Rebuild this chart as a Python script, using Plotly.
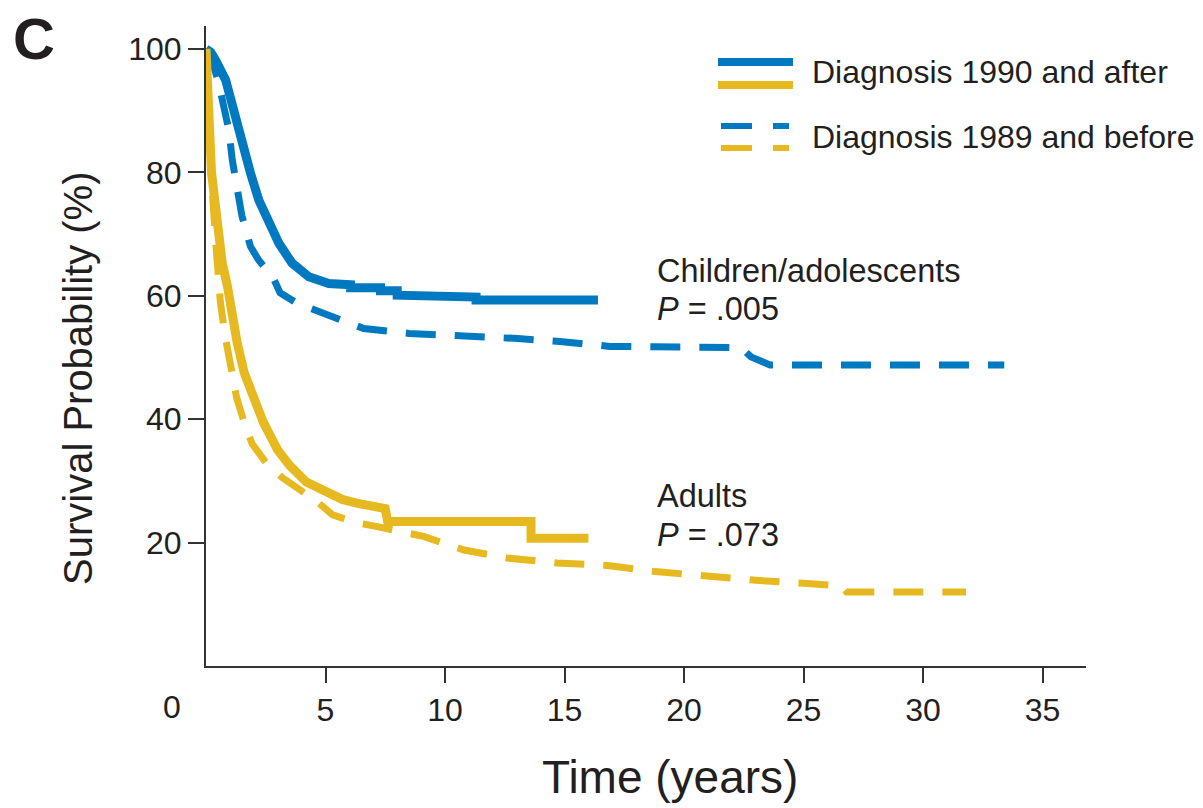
import plotly.graph_objects as go

# Kaplan-Meier estimates (time in years, survival in %)
child_after_t = [0, 0.2, 0.4, 0.82, 1.16, 1.51, 1.86, 2.21, 2.63, 3.05, 3.6, 4.3, 5.14, 6.05, 6.05,
                 7.3, 7.3, 8.0, 8.0, 10.7, 10.7, 11.3, 11.3, 16.4]
child_after_s = [100, 99.5, 98.2, 95, 90.1, 84.7, 79.9, 75.5, 71.7, 68.5, 65.3, 63.1, 62, 61.8, 61.3,
                 61.3, 60.8, 60.8, 60.1, 60.1, 59.8, 59.8, 59.3, 59.3]

child_before_t = [0, 0.25, 0.5, 0.73, 0.95, 1.1, 1.3, 1.5, 1.86, 2.2, 2.8, 3.1, 3.8, 4.9, 6.6, 8.5,
                  10.8, 12.9, 14.8, 16.9, 22.4, 22.8, 23.6, 33.4]
child_before_s = [100, 98, 95, 90.1, 87, 82, 77.5, 73, 68, 65.8, 63, 60.5, 58.8, 57.2, 54.7, 53.9,
                  53.6, 53.1, 52.6, 51.8, 51.6, 50.1, 48.8, 48.8]

adult_after_t = [0, 0.05, 0.12, 0.23, 0.45, 0.68, 0.9, 1.05, 1.3, 1.6, 2.0, 2.4, 3.0, 3.5, 4.2, 5.0,
                 5.7, 6.3, 7.0, 7.5, 7.6, 13.6, 13.6, 16.0]
adult_after_s = [100, 95, 89.6, 80, 72.8, 65.3, 61.5, 58, 52.5, 47.5, 43, 39.5, 35, 32.5, 29.8, 28.2,
                 27, 26.4, 25.8, 25.5, 23.4, 23.4, 20.7, 20.7]

adult_before_t = [0, 0.05, 0.12, 0.23, 0.4, 0.6, 0.8, 1.0, 1.28, 1.6, 1.93, 2.5, 3.2, 3.95, 4.6, 5.3,
                  6.2, 7.16, 8.0, 9.1, 10.8, 12.6, 14.7, 16.8, 18.8, 20.9, 23.0, 25.0, 26.6, 26.8, 31.8]
adult_before_s = [100, 94, 88, 79, 69, 59, 53.5, 49.5, 43.5, 39.5, 36, 33, 30.5, 28.5, 26.8, 24.5,
                  23.3, 22.6, 21.8, 21, 18.8, 17.5, 16.7, 16.3, 15.3, 14.5, 13.9, 13.4, 13.0, 12.0, 12.0]

x_ticks = [5, 10, 15, 20, 25, 30, 35]
y_ticks = [20, 40, 60, 80, 100]
legend_labels = ["Diagnosis 1990 and after", "Diagnosis 1989 and before"]
group_labels = [("Children/adolescents", "<i>P</i> = .005"), ("Adults", "<i>P</i> = .073")]

BLUE = "#0079C1"
GOLD = "#E7B920"
INK = "#231F20"
DASH = "30px,19px"

W, H = 1203, 808
L, R, T, B = 206, 117, 26, 142
PW, PH = W - L - R, H - T - B


def px(xp):
    return (xp - L) / PW


def py(yp):
    return (H - B - yp) / PH


fig = go.Figure()
fig.add_trace(go.Scatter(x=child_after_t, y=child_after_s, mode="lines",
                         line=dict(color=BLUE, width=9), showlegend=False))
fig.add_trace(go.Scatter(x=child_before_t, y=child_before_s, mode="lines",
                         line=dict(color=BLUE, width=7, dash=DASH), showlegend=False))
fig.add_trace(go.Scatter(x=adult_after_t, y=adult_after_s, mode="lines",
                         line=dict(color=GOLD, width=9), showlegend=False))
fig.add_trace(go.Scatter(x=adult_before_t, y=adult_before_s, mode="lines",
                         line=dict(color=GOLD, width=7, dash=DASH), showlegend=False))

tick_font = dict(family="Liberation Sans, Arial", size=32, color=INK)

fig.update_xaxes(range=[0, PW / 23.9], tickvals=x_ticks, ticks="outside", ticklen=15, tickwidth=2,
                 tickcolor="#333", showline=True, linecolor="#333", linewidth=2, showgrid=False,
                 zeroline=False, tickfont=tick_font)
fig.update_yaxes(range=[0, PH / 6.17], tickvals=y_ticks, ticks="outside", ticklen=16, tickwidth=2,
                 tickcolor="#333", showline=True, linecolor="#333", linewidth=2, showgrid=False,
                 zeroline=False, tickfont=tick_font)

ann = []
txt = dict(family="Liberation Sans, Arial", color=INK)
# origin label
ann.append(dict(x=px(172), y=py(707), xref="paper", yref="paper", text="0", showarrow=False,
                font=tick_font, xanchor="center", yanchor="middle"))
# axis titles
ann.append(dict(x=px(670), y=py(777), xref="paper", yref="paper", text="Time (years)", showarrow=False,
                font=dict(size=46, **txt), xanchor="center", yanchor="middle"))
ann.append(dict(x=px(78), y=py(379), xref="paper", yref="paper", text="Survival Probability (%)",
                showarrow=False, textangle=-90, font=dict(size=40, **txt),
                xanchor="center", yanchor="middle"))
# panel letter
ann.append(dict(x=px(34), y=py(38), xref="paper", yref="paper", text="<b>C</b>", showarrow=False,
                font=dict(size=58, **txt), xanchor="center", yanchor="middle"))
# group labels
for (name, pval), (y1, y2) in zip(group_labels, [(271, 309), (496, 535)]):
    ann.append(dict(x=px(655), y=py(y1), xref="paper", yref="paper", text=name, showarrow=False,
                    font=dict(size=32.5, **txt), xanchor="left", yanchor="middle"))
    ann.append(dict(x=px(655), y=py(y2), xref="paper", yref="paper", text=pval, showarrow=False,
                    font=dict(size=32.5, **txt), xanchor="left", yanchor="middle"))
# legend text
for label, yl in zip(legend_labels, [72, 137]):
    ann.append(dict(x=px(810), y=py(yl), xref="paper", yref="paper", text=label, showarrow=False,
                    font=dict(size=32, **txt), xanchor="left", yanchor="middle"))

# legend swatches
shapes = []
for color, yl in [(BLUE, 62), (GOLD, 85)]:
    shapes.append(dict(type="line", xref="paper", yref="paper", x0=px(718), x1=px(793),
                       y0=py(yl), y1=py(yl), line=dict(color=color, width=8)))
for color, yl in [(BLUE, 126), (GOLD, 148)]:
    for a, b in [(721, 752), (773, 789)]:
        shapes.append(dict(type="line", xref="paper", yref="paper", x0=px(a), x1=px(b),
                           y0=py(yl), y1=py(yl), line=dict(color=color, width=6)))

fig.update_layout(width=W, height=H, margin=dict(l=L, r=R, t=T, b=B, autoexpand=False),
                  plot_bgcolor="white", paper_bgcolor="white", annotations=ann, shapes=shapes,
                  showlegend=False)

fig.write_html("out.html")
